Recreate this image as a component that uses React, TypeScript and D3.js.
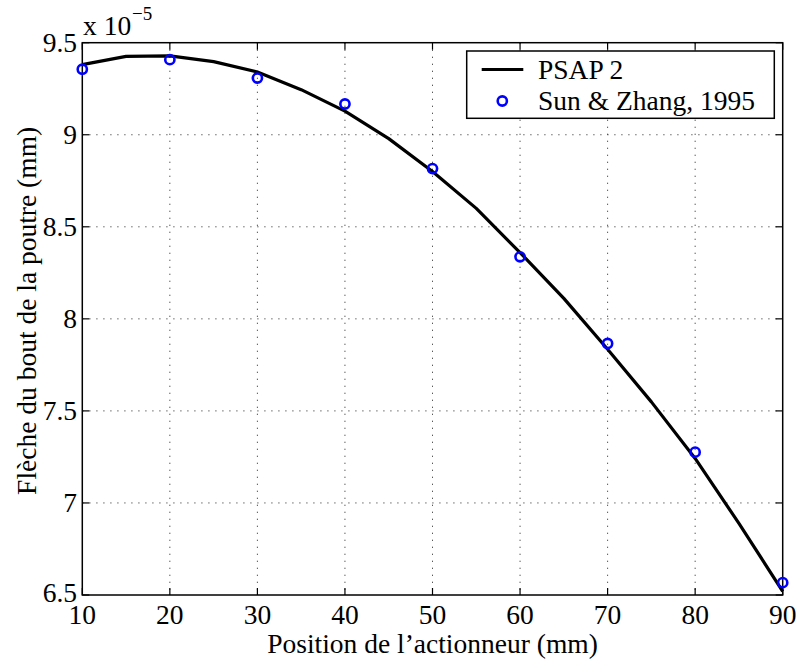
import React from "react";
import * as d3 from "d3";

const lineX = [10, 15, 20, 25, 30, 35, 40, 45, 50, 55, 60, 65, 70, 75, 80, 85, 90];
const lineY = [9.381, 9.426, 9.428, 9.397, 9.341, 9.245, 9.128, 8.979, 8.80, 8.60, 8.36, 8.111, 7.835, 7.549, 7.242, 6.889, 6.52];

const ptsX = [10, 20, 30, 40, 50, 60, 70, 80, 90];
const ptsY = [9.356, 9.408, 9.308, 9.167, 8.816, 8.337, 7.866, 7.276, 6.567];

const xTicks = [10, 20, 30, 40, 50, 60, 70, 80, 90];
const yTicks = [6.5, 7, 7.5, 8, 8.5, 9, 9.5];

const seriesNames = ["PSAP 2", "Sun & Zhang, 1995"];

const W = 798, H = 659;
const L = 82.3, R = 782.7, T = 42.7, B = 595;
const FONT = "Liberation Serif";

export default function App() {
  const x = d3.scaleLinear().domain([10, 90]).range([L, R]);
  const y = d3.scaleLinear().domain([6.5, 9.5]).range([B, T]);
  const line = d3.line<number>().x((_, i) => x(lineX[i])).y((d) => y(d));
  const tl = 7;
  return (
    <svg width={W} height={H} style={{ position: "absolute", left: 0, top: 0, background: "#fff" }} fontFamily={FONT} fontSize={27.5}>
      <rect x={0} y={0} width={W} height={H} fill="#fff" />
      {xTicks.slice(1, -1).map((t) => (
        <line key={"gx" + t} x1={x(t)} x2={x(t)} y1={T} y2={B} stroke="#444" strokeWidth={1} strokeDasharray="1.2,5.8" />
      ))}
      {yTicks.slice(1, -1).map((t) => (
        <line key={"gy" + t} x1={L} x2={R} y1={y(t)} y2={y(t)} stroke="#444" strokeWidth={1} strokeDasharray="1.2,5.8" />
      ))}
      {xTicks.map((t) => (
        <g key={"tx" + t}>
          <line x1={x(t)} x2={x(t)} y1={B} y2={B - tl} stroke="#000" strokeWidth={1.2} />
          <line x1={x(t)} x2={x(t)} y1={T} y2={T + tl} stroke="#000" strokeWidth={1.2} />
          <text x={x(t)} y={623.5} textAnchor="middle">{t}</text>
        </g>
      ))}
      {yTicks.map((t) => (
        <g key={"ty" + t}>
          <line x1={L} x2={L + tl} y1={y(t)} y2={y(t)} stroke="#000" strokeWidth={1.2} />
          <line x1={R} x2={R - tl} y1={y(t)} y2={y(t)} stroke="#000" strokeWidth={1.2} />
          <text x={77} y={y(t) + (t === 6.5 ? 7 : 9.5)} textAnchor="end">{t}</text>
        </g>
      ))}
      <rect x={L} y={T} width={R - L} height={B - T} fill="none" stroke="#000" strokeWidth={1.5} />
      <path d={line(lineY) || ""} fill="none" stroke="#000" strokeWidth={3.2} strokeLinejoin="round" />
      {ptsY.map((v, i) => (
        <circle key={"p" + i} cx={x(ptsX[i])} cy={y(v)} r={4.6} fill="none" stroke="#0000ff" strokeWidth={2.6} />
      ))}
      <text x={83} y={35}>x 10</text>
      <text x={132} y={20} fontSize={19}>−5</text>
      <rect x={466.7} y={51} width={307.6} height={67.3} fill="#fff" stroke="#000" strokeWidth={1.5} />
      <line x1={481.7} x2={523.3} y1={69.5} y2={69.5} stroke="#000" strokeWidth={3.2} />
      <text x={538} y={78.5}>{seriesNames[0]}</text>
      <circle cx={502.3} cy={101} r={4.6} fill="none" stroke="#0000ff" strokeWidth={2.6} />
      <text x={538} y={110}>{seriesNames[1]}</text>
      <text x={432.5} y={653} textAnchor="middle">Position de l’actionneur (mm)</text>
      <text transform={`translate(35.5, ${(T + B) / 2 - 8}) rotate(-90)`} textAnchor="middle">Flèche du bout de la poutre (mm)</text>
    </svg>
  );
}
